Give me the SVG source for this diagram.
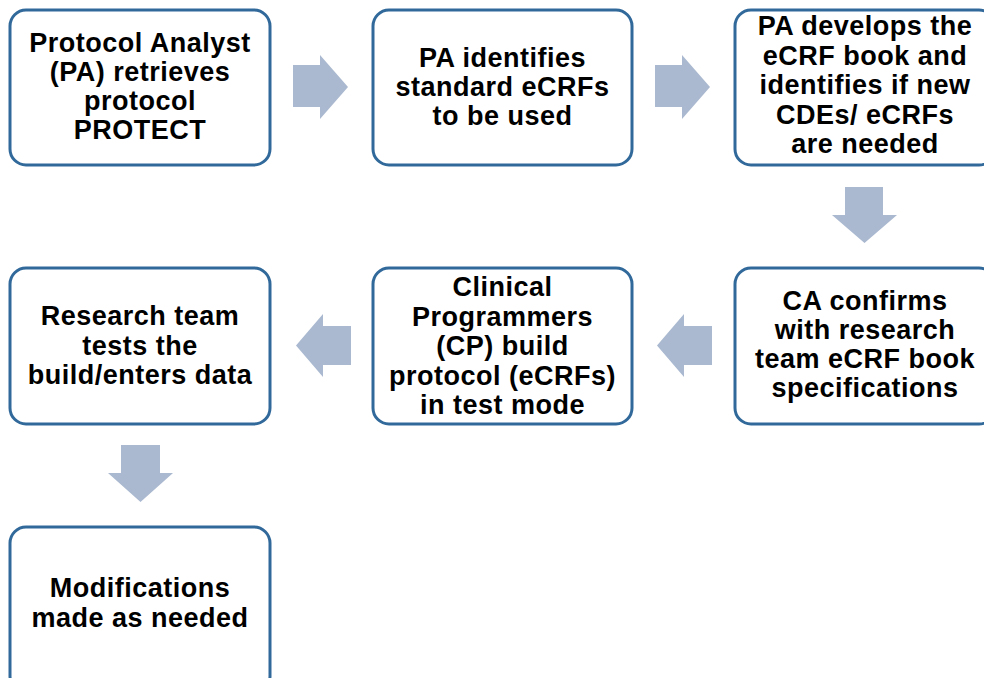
<svg xmlns="http://www.w3.org/2000/svg" width="984" height="678" viewBox="0 0 984 678">
  <style>
    .box { fill: #ffffff; stroke: #31699b; stroke-width: 3; }
    .arrow { fill: #aab9d0; stroke: none; }
    .label { font-family: "Liberation Sans", Arial, sans-serif; font-weight: bold; font-size: 27px; letter-spacing: 0.5px; fill: #000000; text-anchor: middle; }
  </style>
  <rect width="984" height="678" fill="#ffffff"/>

  <g id="connectors">
    <!-- right arrows, top row -->
    <polygon class="arrow" points="293,65 320,65 320,55 348,87 320,119 320,107 293,107"/>
    <polygon class="arrow" points="655,65 682,65 682,55 710,87 682,119 682,107 655,107"/>
    <!-- down arrow, right column -->
    <polygon class="arrow" points="845,187 883,187 883,215 897,215 864.5,243 832,215 845,215"/>
    <!-- left arrows, middle row -->
    <polygon class="arrow" points="712,326 684,326 684,314 657,345.5 684,377 684,365 712,365"/>
    <polygon class="arrow" points="351,326 323,326 323,314 296,345.5 323,377 323,365 351,365"/>
    <!-- down arrow, left column -->
    <polygon class="arrow" points="121,445 160,445 160,473 173,473 140.5,502 108,473 121,473"/>
  </g>

  <g id="node-retrieve">
    <rect class="box" x="10" y="10" width="260" height="155" rx="16"/>
    <text class="label" x="140" y="52">Protocol Analyst</text>
    <text class="label" x="140" y="81">(PA) retrieves</text>
    <text class="label" x="140" y="110">protocol</text>
    <text class="label" x="140" y="139">PROTECT</text>
  </g>

  <g id="node-identify">
    <rect class="box" x="373" y="10" width="259" height="155" rx="16"/>
    <text class="label" x="502.5" y="67">PA identifies</text>
    <text class="label" x="502.5" y="96">standard eCRFs</text>
    <text class="label" x="502.5" y="125">to be used</text>
  </g>

  <g id="node-develop">
    <rect class="box" x="735" y="10" width="260" height="155" rx="16"/>
    <text class="label" x="865" y="35">PA develops the</text>
    <text class="label" x="865" y="64.5">eCRF book and</text>
    <text class="label" x="865" y="94">identifies if new</text>
    <text class="label" x="865" y="123.5">CDEs/ eCRFs</text>
    <text class="label" x="865" y="153">are needed</text>
  </g>

  <g id="node-confirm">
    <rect class="box" x="735" y="268" width="260" height="156" rx="16"/>
    <text class="label" x="865" y="310">CA confirms</text>
    <text class="label" x="865" y="339">with research</text>
    <text class="label" x="865" y="368">team eCRF book</text>
    <text class="label" x="865" y="397">specifications</text>
  </g>

  <g id="node-build">
    <rect class="box" x="373" y="268" width="259" height="156" rx="16"/>
    <text class="label" x="502.5" y="296">Clinical</text>
    <text class="label" x="502.5" y="325.5">Programmers</text>
    <text class="label" x="502.5" y="355">(CP) build</text>
    <text class="label" x="502.5" y="384.5">protocol (eCRFs)</text>
    <text class="label" x="502.5" y="414">in test mode</text>
  </g>

  <g id="node-test">
    <rect class="box" x="10" y="268" width="260" height="156" rx="16"/>
    <text class="label" x="140" y="325">Research team</text>
    <text class="label" x="140" y="354.5">tests the</text>
    <text class="label" x="140" y="384">build/enters data</text>
  </g>

  <g id="node-modify">
    <rect class="box" x="10" y="527" width="260" height="165" rx="16"/>
    <text class="label" x="140" y="597">Modifications</text>
    <text class="label" x="140" y="627">made as needed</text>
  </g>
</svg>
